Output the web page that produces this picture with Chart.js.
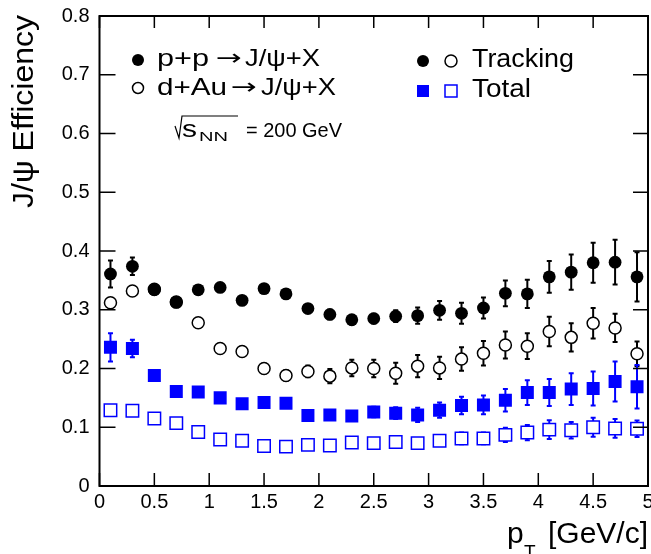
<!DOCTYPE html>
<html>
<head>
<meta charset="utf-8">
<script src="https://cdn.jsdelivr.net/npm/chart.js@4/dist/chart.umd.min.js"></script>
<style>body{margin:0;background:#fff}</style>
</head>
<body>
<canvas id="c" width="651" height="554"></canvas>
<script>
// pT bin centres [GeV/c]
const pT = [0.1, 0.3, 0.5, 0.7, 0.9, 1.1, 1.3, 1.5, 1.7, 1.9, 2.1, 2.3, 2.5,
            2.7, 2.9, 3.1, 3.3, 3.5, 3.7, 3.9, 4.1, 4.3, 4.5, 4.7, 4.9];

// p+p tracking efficiency (filled circles)
const ppTrack    = [0.361, 0.374, 0.334, 0.313, 0.334, 0.338, 0.316, 0.336, 0.327, 0.302, 0.292, 0.283, 0.285,
                    0.289, 0.290, 0.299, 0.294, 0.303, 0.328, 0.327, 0.356, 0.364, 0.380, 0.381, 0.356];
const ppTrackErr = [0.023, 0.015, 0.007, 0.007, 0.007, 0.007, 0.007, 0.007, 0.007, 0.007, 0.008, 0.008, 0.008,
                    0.010, 0.014, 0.016, 0.018, 0.018, 0.022, 0.024, 0.027, 0.030, 0.034, 0.038, 0.042];

// d+Au tracking efficiency (open circles)
const dAuTrack    = [0.312, 0.332, 0.335, 0.313, 0.278, 0.234, 0.229, 0.200, 0.188, 0.195, 0.187, 0.201, 0.200,
                     0.192, 0.204, 0.201, 0.216, 0.226, 0.240, 0.238, 0.263, 0.253, 0.277, 0.269, 0.225];
const dAuTrackErr = [0.006, 0.006, 0.006, 0.006, 0.007, 0.007, 0.007, 0.008, 0.009, 0.010, 0.012, 0.014, 0.015,
                     0.018, 0.019, 0.019, 0.020, 0.021, 0.023, 0.022, 0.025, 0.024, 0.026, 0.024, 0.021];

// p+p total efficiency (filled squares)
const ppTotal    = [0.236, 0.234, 0.188, 0.161, 0.160, 0.150, 0.140, 0.142, 0.141, 0.120, 0.121, 0.119, 0.126,
                    0.124, 0.121, 0.129, 0.137, 0.138, 0.146, 0.159, 0.159, 0.165, 0.166, 0.178, 0.169];
const ppTotalErr = [0.024, 0.015, 0.008, 0.006, 0.006, 0.006, 0.006, 0.006, 0.006, 0.006, 0.007, 0.008, 0.009,
                    0.010, 0.012, 0.013, 0.015, 0.016, 0.019, 0.021, 0.023, 0.027, 0.029, 0.034, 0.037];

// d+Au total efficiency (open squares)
const dAuTotal    = [0.129, 0.128, 0.115, 0.107, 0.092, 0.079, 0.077, 0.068, 0.067, 0.070, 0.069, 0.074, 0.073,
                     0.075, 0.073, 0.077, 0.081, 0.081, 0.087, 0.091, 0.096, 0.095, 0.100, 0.098, 0.0975];
const dAuTotalErr = [0.004, 0.004, 0.004, 0.004, 0.004, 0.004, 0.004, 0.005, 0.005, 0.005, 0.006, 0.006, 0.007,
                     0.008, 0.008, 0.009, 0.010, 0.010, 0.012, 0.013, 0.016, 0.014, 0.016, 0.016, 0.014];

const FONT = '"Liberation Sans", Arial, Helvetica, sans-serif';
const BLUE = '#0000ff';

function pts(ys, errs) {
    return pT.map((x, i) => ({ x: x, y: ys[i], err: errs[i] }));
}

// draw text squeezed/stretched to a given width (ROOT text is a bit wider)
function fitText(ctx, text, x, y, w) {
    const nat = ctx.measureText(text).width;
    ctx.save();
    ctx.translate(x, y);
    ctx.scale(w / nat, 1);
    ctx.fillText(text, 0, 0);
    ctx.restore();
}

// vertical error bars with small caps, drawn under the markers
const errorBars = {
    id: 'errorBars',
    beforeDatasetsDraw(chart) {
        const { ctx, scales: { x, y } } = chart;
        ctx.save();
        chart.data.datasets.forEach(ds => {
            ctx.strokeStyle = ds.borderColor;
            ctx.lineWidth = 2;
            ctx.beginPath();
            ds.data.forEach(p => {
                const px = x.getPixelForValue(p.x);
                const y1 = y.getPixelForValue(p.y - p.err);
                const y2 = y.getPixelForValue(p.y + p.err);
                ctx.moveTo(px, y1); ctx.lineTo(px, y2);
                ctx.moveTo(px - 2.5, y1); ctx.lineTo(px + 2.5, y1);
                ctx.moveTo(px - 2.5, y2); ctx.lineTo(px + 2.5, y2);
            });
            ctx.stroke();
        });
        ctx.restore();
    }
};

// ROOT-like frame with inward ticks, axis titles and legend text
const decorations = {
    id: 'decorations',
    afterDraw(chart) {
        const { ctx, chartArea: a, scales: { x, y } } = chart;
        ctx.save();
        ctx.strokeStyle = '#000';
        ctx.lineWidth = 2;
        ctx.strokeRect(a.left, a.top, a.right - a.left, a.bottom - a.top);

        ctx.lineWidth = 1.5;
        ctx.beginPath();
        x.ticks.forEach(t => {
            const px = x.getPixelForValue(t.value);
            ctx.moveTo(px, a.bottom); ctx.lineTo(px, a.bottom - 13);
            ctx.moveTo(px, a.top); ctx.lineTo(px, a.top + 12);
        });
        y.ticks.forEach(t => {
            const py = y.getPixelForValue(t.value);
            ctx.moveTo(a.left, py); ctx.lineTo(a.left + 16, py);
            ctx.moveTo(a.right, py); ctx.lineTo(a.right - 15, py);
        });
        ctx.stroke();

        ctx.fillStyle = '#000';
        ctx.textBaseline = 'alphabetic';
        ctx.textAlign = 'left';

        // y title, bottom-to-top
        ctx.save();
        ctx.translate(33, 208);
        ctx.rotate(-Math.PI / 2);
        ctx.font = '29px ' + FONT;
        fitText(ctx, 'J/\u03c8 Efficiency', 0, 0, 193);
        ctx.restore();

        // x title: p_T [GeV/c]
        ctx.font = '30px ' + FONT;
        ctx.textAlign = 'right';
        ctx.fillText('[GeV/c]', a.right, 543);
        ctx.textAlign = 'left';
        ctx.fillText('p', 507, 543);
        ctx.font = '19px ' + FONT;
        ctx.fillText('T', 524, 558);

        // legend, left block
        ctx.beginPath(); ctx.arc(138, 60, 6, 0, Math.PI * 2); ctx.fill();
        ctx.lineWidth = 1.5;
        ctx.beginPath(); ctx.arc(138, 88, 5.5, 0, Math.PI * 2); ctx.stroke();
        ctx.font = '24px ' + FONT;
        fitText(ctx, 'p+p', 157, 66, 52);
        fitText(ctx, 'J/\u03c8+X', 245, 66, 75);
        fitText(ctx, 'd+Au', 157, 95, 70);
        fitText(ctx, 'J/\u03c8+X', 261, 95, 75);
        ctx.font = '22px "DejaVu Sans", ' + FONT;
        fitText(ctx, '\u2192', 216, 65, 26);
        fitText(ctx, '\u2192', 231, 94, 26);

        // sqrt(s_NN) = 200 GeV
        ctx.lineWidth = 1.2;
        ctx.beginPath();
        ctx.moveTo(175, 126); ctx.lineTo(179, 138); ctx.lineTo(182, 116); ctx.lineTo(238, 116);
        ctx.stroke();
        ctx.font = '24px ' + FONT;
        fitText(ctx, 's', 182, 137, 15);
        ctx.font = '13px ' + FONT;
        fitText(ctx, 'NN', 199, 141, 29);
        ctx.font = '20px ' + FONT;
        fitText(ctx, '= 200 GeV', 246, 137, 96);

        // legend, right block
        ctx.beginPath(); ctx.arc(423, 61, 6, 0, Math.PI * 2); ctx.fill();
        ctx.lineWidth = 1.5;
        ctx.beginPath(); ctx.arc(451, 61, 6, 0, Math.PI * 2); ctx.stroke();
        ctx.font = '26px ' + FONT;
        fitText(ctx, 'Tracking', 472, 67, 102);
        ctx.fillStyle = BLUE;
        ctx.strokeStyle = BLUE;
        ctx.fillRect(417, 85, 12, 12);
        ctx.strokeRect(445, 85, 12, 12);
        ctx.fillStyle = '#000';
        fitText(ctx, 'Total', 472, 97, 59);
        ctx.restore();
    }
};

const datasets = [
    {
        label: 'p+p Tracking', data: pts(ppTrack, ppTrackErr), order: 0,
        pointStyle: 'circle', pointRadius: 6.4, borderWidth: 0,
        backgroundColor: '#000', borderColor: '#000'
    },
    {
        label: 'd+Au Tracking', data: pts(dAuTrack, dAuTrackErr), order: 1,
        pointStyle: 'circle', pointRadius: 6, borderWidth: 1.5,
        backgroundColor: '#fff', borderColor: '#000'
    },
    {
        label: 'p+p Total', data: pts(ppTotal, ppTotalErr), order: 2,
        pointStyle: 'rect', pointRadius: 9.2, borderWidth: 0,
        backgroundColor: BLUE, borderColor: BLUE
    },
    {
        label: 'd+Au Total', data: pts(dAuTotal, dAuTotalErr), order: 3,
        pointStyle: 'rect', pointRadius: 8.8, borderWidth: 1.5,
        backgroundColor: '#fff', borderColor: BLUE
    }
];

new Chart(document.getElementById('c'), {
    type: 'scatter',
    data: { datasets: datasets },
    options: {
        responsive: false,
        animation: false,
        events: [],
        layout: { autoPadding: false, padding: { left: 0, right: 3, top: 16, bottom: 0 } },
        plugins: { legend: { display: false }, tooltip: { enabled: false } },
        scales: {
            x: {
                type: 'linear', min: 0, max: 5,
                grid: { display: false, drawTicks: false },
                border: { display: false },
                ticks: {
                    stepSize: 0.5, padding: 4, color: '#000', maxRotation: 0,
                    font: { family: FONT, size: 20 },
                    callback: v => String(+v.toFixed(1))
                },
                afterFit: s => { s.height = 68; s.paddingLeft = 0; s.paddingRight = 0; }
            },
            y: {
                type: 'linear', min: 0, max: 0.8,
                grid: { display: false, drawTicks: false },
                border: { display: false },
                ticks: {
                    stepSize: 0.1, padding: 10, color: '#000',
                    font: { family: FONT, size: 20 },
                    callback: v => v === 0 ? '0' : v.toFixed(1)
                },
                afterFit: s => { s.width = 99.5; s.paddingTop = 0; s.paddingBottom = 0; }
            }
        }
    },
    plugins: [errorBars, decorations]
});
</script>
</body>
</html>
